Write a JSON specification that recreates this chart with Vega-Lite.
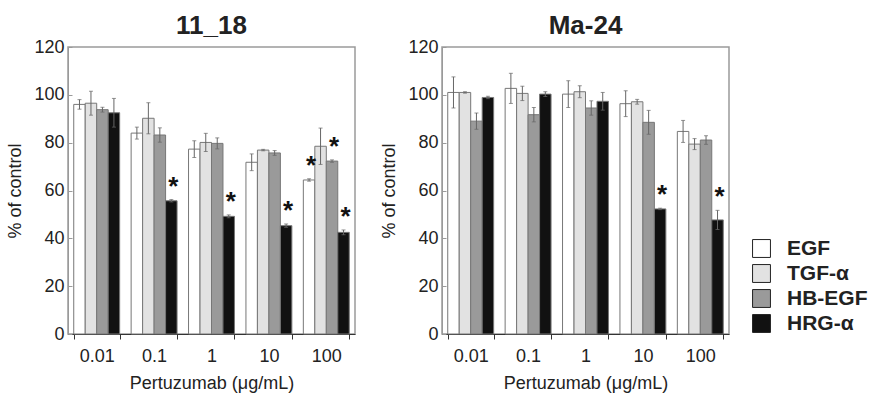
{
  "$schema": "https://vega.github.io/schema/vega-lite/v6.json",
  "padding": {"left": 6, "top": 12, "right": 0, "bottom": 0},
  "datasets": {
    "rows": [
      {"panel": "11_18", "dose": "0.01", "factor": "EGF", "value": 96.0, "lo": 94.0, "hi": 98.0, "star": ""},
      {"panel": "11_18", "dose": "0.01", "factor": "TGF-α", "value": 96.5, "lo": 91.5, "hi": 101.5, "star": ""},
      {"panel": "11_18", "dose": "0.01", "factor": "HB-EGF", "value": 93.8, "lo": 92.8, "hi": 94.8, "star": ""},
      {"panel": "11_18", "dose": "0.01", "factor": "HRG-α", "value": 92.5, "lo": 86.5, "hi": 98.5, "star": ""},
      {"panel": "11_18", "dose": "0.1", "factor": "EGF", "value": 84.0, "lo": 81.5, "hi": 86.5, "star": ""},
      {"panel": "11_18", "dose": "0.1", "factor": "TGF-α", "value": 90.2, "lo": 83.7, "hi": 96.7, "star": ""},
      {"panel": "11_18", "dose": "0.1", "factor": "HB-EGF", "value": 83.2, "lo": 80.2, "hi": 86.2, "star": ""},
      {"panel": "11_18", "dose": "0.1", "factor": "HRG-α", "value": 55.7, "lo": 55.2, "hi": 56.2, "star": "*"},
      {"panel": "11_18", "dose": "1", "factor": "EGF", "value": 77.3, "lo": 73.8, "hi": 80.8, "star": ""},
      {"panel": "11_18", "dose": "1", "factor": "TGF-α", "value": 80.1, "lo": 76.3, "hi": 83.9, "star": ""},
      {"panel": "11_18", "dose": "1", "factor": "HB-EGF", "value": 79.7, "lo": 77.4, "hi": 82.0, "star": ""},
      {"panel": "11_18", "dose": "1", "factor": "HRG-α", "value": 49.2, "lo": 48.6, "hi": 49.8, "star": "*"},
      {"panel": "11_18", "dose": "10", "factor": "EGF", "value": 71.8, "lo": 68.3, "hi": 75.3, "star": ""},
      {"panel": "11_18", "dose": "10", "factor": "TGF-α", "value": 76.9, "lo": 76.6, "hi": 77.2, "star": ""},
      {"panel": "11_18", "dose": "10", "factor": "HB-EGF", "value": 75.7, "lo": 74.7, "hi": 76.7, "star": ""},
      {"panel": "11_18", "dose": "10", "factor": "HRG-α", "value": 45.3, "lo": 44.6, "hi": 46.0, "star": "*"},
      {"panel": "11_18", "dose": "100", "factor": "EGF", "value": 64.4, "lo": 63.9, "hi": 64.9, "star": "*"},
      {"panel": "11_18", "dose": "100", "factor": "TGF-α", "value": 78.5, "lo": 70.9, "hi": 86.1, "star": ""},
      {"panel": "11_18", "dose": "100", "factor": "HB-EGF", "value": 72.3, "lo": 71.8, "hi": 72.8, "star": "*"},
      {"panel": "11_18", "dose": "100", "factor": "HRG-α", "value": 42.5, "lo": 41.5, "hi": 43.5, "star": "*"},
      {"panel": "Ma-24", "dose": "0.01", "factor": "EGF", "value": 101.0, "lo": 94.5, "hi": 107.5, "star": ""},
      {"panel": "Ma-24", "dose": "0.01", "factor": "TGF-α", "value": 101.0, "lo": 100.7, "hi": 101.3, "star": ""},
      {"panel": "Ma-24", "dose": "0.01", "factor": "HB-EGF", "value": 89.0, "lo": 85.6, "hi": 92.4, "star": ""},
      {"panel": "Ma-24", "dose": "0.01", "factor": "HRG-α", "value": 98.9, "lo": 98.4, "hi": 99.4, "star": ""},
      {"panel": "Ma-24", "dose": "0.1", "factor": "EGF", "value": 102.7, "lo": 96.4, "hi": 109.0, "star": ""},
      {"panel": "Ma-24", "dose": "0.1", "factor": "TGF-α", "value": 100.6, "lo": 97.6, "hi": 103.6, "star": ""},
      {"panel": "Ma-24", "dose": "0.1", "factor": "HB-EGF", "value": 91.7, "lo": 88.7, "hi": 94.7, "star": ""},
      {"panel": "Ma-24", "dose": "0.1", "factor": "HRG-α", "value": 100.3, "lo": 99.3, "hi": 101.3, "star": ""},
      {"panel": "Ma-24", "dose": "1", "factor": "EGF", "value": 100.3, "lo": 94.7, "hi": 105.9, "star": ""},
      {"panel": "Ma-24", "dose": "1", "factor": "TGF-α", "value": 101.3, "lo": 98.8, "hi": 103.8, "star": ""},
      {"panel": "Ma-24", "dose": "1", "factor": "HB-EGF", "value": 94.5, "lo": 91.5, "hi": 97.5, "star": ""},
      {"panel": "Ma-24", "dose": "1", "factor": "HRG-α", "value": 97.3, "lo": 93.6, "hi": 101.0, "star": ""},
      {"panel": "Ma-24", "dose": "10", "factor": "EGF", "value": 96.3, "lo": 90.9, "hi": 101.7, "star": ""},
      {"panel": "Ma-24", "dose": "10", "factor": "TGF-α", "value": 97.1, "lo": 96.1, "hi": 98.1, "star": ""},
      {"panel": "Ma-24", "dose": "10", "factor": "HB-EGF", "value": 88.5, "lo": 83.5, "hi": 93.5, "star": ""},
      {"panel": "Ma-24", "dose": "10", "factor": "HRG-α", "value": 52.3, "lo": 52.0, "hi": 52.6, "star": "*"},
      {"panel": "Ma-24", "dose": "100", "factor": "EGF", "value": 84.7, "lo": 80.1, "hi": 89.3, "star": ""},
      {"panel": "Ma-24", "dose": "100", "factor": "TGF-α", "value": 79.4, "lo": 77.1, "hi": 81.7, "star": ""},
      {"panel": "Ma-24", "dose": "100", "factor": "HB-EGF", "value": 81.1, "lo": 79.3, "hi": 82.9, "star": ""},
      {"panel": "Ma-24", "dose": "100", "factor": "HRG-α", "value": 47.7, "lo": 43.7, "hi": 51.7, "star": "*"}
    ]
  },
  "config": {
    "font": "Liberation Sans",
    "view": {"stroke": "#9a9a9a", "strokeWidth": 1.5},
    "axis": {"grid": false, "labelFont": "Liberation Sans", "titleFont": "Liberation Sans", "labelColor": "#222", "titleColor": "#222", "titleFontWeight": "normal"},
    "title": {"font": "Liberation Sans", "fontSize": 26, "fontWeight": "bold", "color": "#222", "offset": -1},
    "legend": {"labelFont": "Liberation Sans", "labelFontSize": 21, "labelFontWeight": "bold", "labelColor": "#222"}
  },
  "spacing": 24,
  "hconcat": [
    {
      "title": "11_18",
      "width": 287,
      "height": 287,
      "data": {"name": "rows"},
      "transform": [{"filter": "datum.panel === '11_18'"}],
      "encoding": {
        "x": {"field": "dose", "type": "nominal", "sort": ["0.01", "0.1", "1", "10", "100"],
          "scale": {"paddingInner": 0.2, "paddingOuter": 0.1},
          "axis": {"title": "Pertuzumab (μg/mL)", "labelAngle": 0, "tickBand": "extent", "labelFontSize": 18, "titleFontSize": 18, "domainColor": "#333", "tickColor": "#333", "tickSize": 5, "labelPadding": 8, "titlePadding": 9}},
        "xOffset": {"field": "factor", "type": "nominal", "sort": ["EGF", "TGF-α", "HB-EGF", "HRG-α"]}
      },
      "layer": [
        {"mark": {"type": "bar", "stroke": "#777", "strokeWidth": 1},
          "encoding": {
            "y": {"field": "value", "type": "quantitative", "scale": {"domain": [0, 120], "nice": false},
              "axis": {"title": "% of control", "values": [0, 20, 40, 60, 80, 100, 120], "labelFontSize": 18, "titleFontSize": 18, "domainColor": "#9a9a9a", "tickColor": "#9a9a9a", "tickSize": -4, "labelPadding": 8, "titlePadding": 9}},
            "color": {"field": "factor", "type": "nominal",
              "scale": {"domain": ["EGF", "TGF-α", "HB-EGF", "HRG-α"], "range": ["#ffffff", "#e2e2e2", "#9a9a9a", "#111111"]},
              "legend": {"title": null, "orient": "none", "legendX": 683, "legendY": 191, "symbolType": "square", "symbolSize": 320, "symbolStrokeColor": "#222", "symbolStrokeWidth": 1, "symbolOpacity": 1, "labelOffset": 15, "rowPadding": 2}}
          }},
        {"mark": {"type": "rule", "color": "#666", "strokeWidth": 1},
          "encoding": {"y": {"field": "lo", "type": "quantitative"}, "y2": {"field": "hi"}}},
        {"mark": {"type": "tick", "color": "#666", "thickness": 1, "size": 4},
          "encoding": {"y": {"field": "lo", "type": "quantitative"}}},
        {"mark": {"type": "tick", "color": "#666", "thickness": 1, "size": 4},
          "encoding": {"y": {"field": "hi", "type": "quantitative"}}},
        {"transform": [{"filter": "datum.star === '*'"}],
          "mark": {"type": "text", "fontSize": 26, "fontWeight": "bold", "color": "#111", "baseline": "alphabetic", "dy": -5, "dx": 2},
          "encoding": {"y": {"field": "hi", "type": "quantitative"}, "text": {"field": "star"}}}
      ]
    },
    {
      "title": "Ma-24",
      "width": 287,
      "height": 287,
      "data": {"name": "rows"},
      "transform": [{"filter": "datum.panel === 'Ma-24'"}],
      "encoding": {
        "x": {"field": "dose", "type": "nominal", "sort": ["0.01", "0.1", "1", "10", "100"],
          "scale": {"paddingInner": 0.2, "paddingOuter": 0.1},
          "axis": {"title": "Pertuzumab (μg/mL)", "labelAngle": 0, "tickBand": "extent", "labelFontSize": 18, "titleFontSize": 18, "domainColor": "#333", "tickColor": "#333", "tickSize": 5, "labelPadding": 8, "titlePadding": 9}},
        "xOffset": {"field": "factor", "type": "nominal", "sort": ["EGF", "TGF-α", "HB-EGF", "HRG-α"]}
      },
      "layer": [
        {"mark": {"type": "bar", "stroke": "#777", "strokeWidth": 1},
          "encoding": {
            "y": {"field": "value", "type": "quantitative", "scale": {"domain": [0, 120], "nice": false},
              "axis": {"title": "% of control", "values": [0, 20, 40, 60, 80, 100, 120], "labelFontSize": 18, "titleFontSize": 18, "domainColor": "#9a9a9a", "tickColor": "#9a9a9a", "tickSize": -4, "labelPadding": 8, "titlePadding": 9}},
            "color": {"field": "factor", "type": "nominal",
              "scale": {"domain": ["EGF", "TGF-α", "HB-EGF", "HRG-α"], "range": ["#ffffff", "#e2e2e2", "#9a9a9a", "#111111"]},
              "legend": {"title": null, "orient": "none", "legendX": 683, "legendY": 191, "symbolType": "square", "symbolSize": 320, "symbolStrokeColor": "#222", "symbolStrokeWidth": 1, "symbolOpacity": 1, "labelOffset": 15, "rowPadding": 2}}
          }},
        {"mark": {"type": "rule", "color": "#666", "strokeWidth": 1},
          "encoding": {"y": {"field": "lo", "type": "quantitative"}, "y2": {"field": "hi"}}},
        {"mark": {"type": "tick", "color": "#666", "thickness": 1, "size": 4},
          "encoding": {"y": {"field": "lo", "type": "quantitative"}}},
        {"mark": {"type": "tick", "color": "#666", "thickness": 1, "size": 4},
          "encoding": {"y": {"field": "hi", "type": "quantitative"}}},
        {"transform": [{"filter": "datum.star === '*'"}],
          "mark": {"type": "text", "fontSize": 26, "fontWeight": "bold", "color": "#111", "baseline": "alphabetic", "dy": -5, "dx": 2},
          "encoding": {"y": {"field": "hi", "type": "quantitative"}, "text": {"field": "star"}}}
      ]
    }
  ]
}
